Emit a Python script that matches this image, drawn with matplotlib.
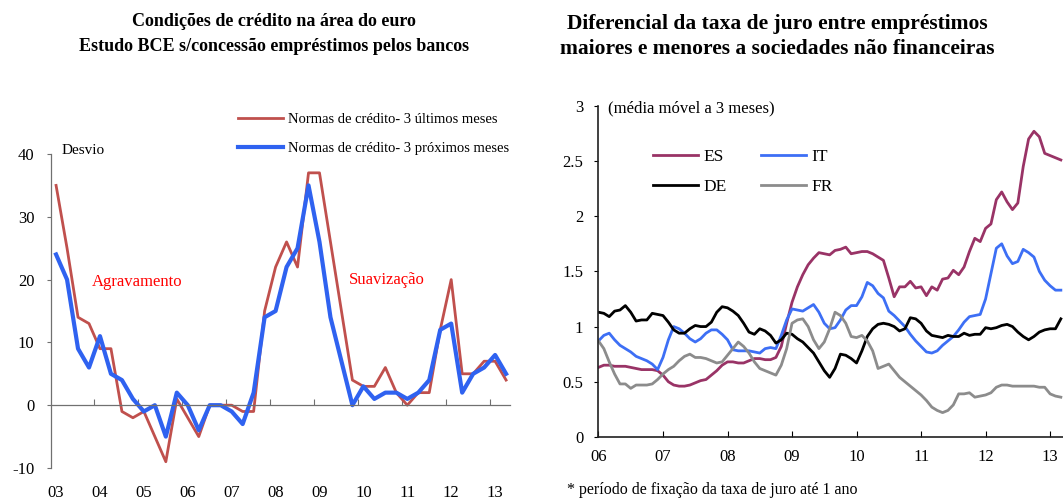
import pandas as pd
import matplotlib
matplotlib.use('Agg')
import matplotlib.pyplot as plt

plt.rcParams['font.family'] = ['Liberation Serif', 'DejaVu Serif']
plt.rcParams['axes.unicode_minus'] = False

# Grafico 1 - inquerito BCE, trimestral 2003T1-2013T2
trimestres = pd.period_range('2003Q1', '2013Q2', freq='Q')
normas_ultimos = [35, 25, 14, 13, 9, 9, -1, -2, -1, -5, -9, 1,
                  -2, -5, 0, 0, 0, -1, -1, 15, 22, 26, 22, 37,
                  37, 26, 15, 4, 3, 3, 6, 2, 0, 2, 2, 12,
                  20, 5, 5, 7, 7, 4]
normas_proximos = [24, 20, 9, 6, 11, 5, 4, 1, -1, 0, -5, 2,
                   0, -4, 0, 0, -1, -3, 2, 14, 15, 22, 25, 35,
                   26, 14, 7, 0, 3, 1, 2, 2, 1, 2, 4, 12,
                   13, 2, 5, 6, 8, 5]
anos_esq = list(range(2003, 2014))
rotulos_esq = ['03', '04', '05', '06', '07', '08', '09', '10', '11', '12', '13']
yticks_esq = [-10, 0, 10, 20, 30, 40]

# Grafico 2 - diferencial da taxa de juro, mensal (media movel 3 meses)
meses = pd.period_range('2006-01', '2013-03', freq='M')
es = [0.63, 0.65, 0.65, 0.64, 0.64, 0.64, 0.63, 0.62, 0.61, 0.61, 0.61, 0.60,
      0.56, 0.50, 0.47, 0.46, 0.46, 0.47, 0.49, 0.51, 0.52, 0.56, 0.60, 0.65,
      0.68, 0.68, 0.67, 0.67, 0.69, 0.71, 0.71, 0.70, 0.70, 0.72, 0.82, 1.03,
      1.22, 1.36, 1.47, 1.56, 1.62, 1.67, 1.66, 1.65, 1.69, 1.70, 1.72, 1.66,
      1.67, 1.68, 1.68, 1.66, 1.63, 1.60, 1.44, 1.27, 1.36, 1.36, 1.41, 1.35,
      1.36, 1.28, 1.36, 1.33, 1.43, 1.44, 1.51, 1.47, 1.54, 1.68, 1.80, 1.77,
      1.89, 1.93, 2.15, 2.22, 2.13, 2.06, 2.12, 2.45, 2.70, 2.77, 2.72, 2.57,
      2.55, 2.53, 2.51]
it = [0.87, 0.92, 0.94, 0.88, 0.83, 0.80, 0.77, 0.73, 0.71, 0.69, 0.66, 0.61,
      0.72, 0.88, 1.00, 0.98, 0.94, 0.89, 0.86, 0.89, 0.94, 0.97, 0.97, 0.93,
      0.88, 0.79, 0.78, 0.78, 0.78, 0.77, 0.76, 0.80, 0.81, 0.80, 0.92, 1.06,
      1.16, 1.15, 1.14, 1.17, 1.20, 1.13, 1.03, 0.98, 0.99, 1.06, 1.15, 1.19,
      1.19, 1.27, 1.40, 1.37, 1.30, 1.26, 1.14, 1.10, 1.05, 1.00, 0.93, 0.87,
      0.82, 0.77, 0.76, 0.78, 0.83, 0.87, 0.91, 0.97, 1.04, 1.09, 1.10, 1.11,
      1.25, 1.48, 1.71, 1.75, 1.64, 1.57, 1.59, 1.70, 1.67, 1.63, 1.50, 1.42,
      1.37, 1.33, 1.33]
de = [1.13, 1.12, 1.09, 1.14, 1.15, 1.19, 1.13, 1.05, 1.06, 1.06, 1.12, 1.11,
      1.10, 1.04, 0.97, 0.94, 0.94, 0.98, 1.01, 1.00, 1.00, 1.04, 1.13, 1.18,
      1.17, 1.14, 1.10, 1.03, 0.95, 0.93, 0.98, 0.96, 0.92, 0.85, 0.88, 0.94,
      0.93, 0.89, 0.86, 0.81, 0.76, 0.68, 0.60, 0.54, 0.62, 0.75, 0.74, 0.71,
      0.67, 0.78, 0.91, 0.98, 1.02, 1.03, 1.02, 1.00, 0.96, 0.98, 1.08, 1.07,
      1.03, 0.96, 0.92, 0.91, 0.90, 0.92, 0.91, 0.91, 0.94, 0.92, 0.93, 0.93,
      0.99, 0.98, 0.99, 1.01, 1.02, 1.00, 0.95, 0.91, 0.88, 0.91, 0.95, 0.97,
      0.98, 0.98, 1.07]
fr = [0.87, 0.80, 0.68, 0.57, 0.48, 0.48, 0.44, 0.47, 0.47, 0.47, 0.48, 0.52,
      0.57, 0.61, 0.64, 0.69, 0.73, 0.75, 0.72, 0.72, 0.71, 0.69, 0.67, 0.68,
      0.74, 0.80, 0.86, 0.82, 0.76, 0.68, 0.62, 0.60, 0.58, 0.56, 0.65, 0.80,
      1.03, 1.06, 1.07, 1.00, 0.88, 0.80, 0.86, 0.98, 1.13, 1.10, 1.03, 0.91,
      0.90, 0.92, 0.87, 0.78, 0.62, 0.64, 0.66, 0.60, 0.54, 0.50, 0.46, 0.42,
      0.38, 0.33, 0.27, 0.24, 0.22, 0.24, 0.29, 0.39, 0.39, 0.40, 0.36, 0.37,
      0.38, 0.40, 0.45, 0.47, 0.47, 0.46, 0.46, 0.46, 0.46, 0.46, 0.45, 0.45,
      0.39, 0.37, 0.36]
anos_dir = list(range(2006, 2014))
rotulos_dir = ['06', '07', '08', '09', '10', '11', '12', '13']
yticks_dir = [0, 0.5, 1, 1.5, 2, 2.5, 3]
ytick_rot_dir = ['0', '0.5', '1', '1.5', '2', '2.5', '3']

t_q = trimestres.year + (trimestres.quarter - 1) / 4
t_m = meses.year + (meses.month - 1) / 12

fig = plt.figure(figsize=(10.63, 5), dpi=100)

# ---- grafico da esquerda
ax1 = fig.add_axes([0.048, 0.064, 0.4318, 0.628])
ax1.plot(t_q, normas_ultimos, color='#C0504D', lw=2.0,
         label='Normas de crédito- 3 últimos meses')
ax1.plot(t_q, normas_proximos, color='#2F62F0', lw=3.0,
         label='Normas de crédito- 3 próximos meses')
ax1.set_xlim(2002.885, 2013.34)
ax1.set_ylim(-10, 40)
ax1.spines['top'].set_visible(False)
ax1.spines['right'].set_visible(False)
ax1.spines['bottom'].set_position(('data', 0))
for s in ['left', 'bottom']:
    ax1.spines[s].set_color('#707070')
    ax1.spines[s].set_linewidth(0.9)
ax1.set_xticks([a - 0.125 for a in anos_esq[1:]])
ax1.tick_params(axis='x', direction='in', length=4, labelbottom=False, color='#707070')
ax1.set_yticks(yticks_esq)
ax1.tick_params(axis='y', direction='out', length=3, pad=9, labelsize=12, color='#707070')

sec = ax1.secondary_xaxis('bottom')
sec.set_xticks(anos_esq, rotulos_esq)
sec.tick_params(length=0, pad=12, labelsize=12)
sec.spines['bottom'].set_visible(False)

ax1.text(2003.13, 40.6, 'Desvio', fontsize=11, va='center')
ax1.text(2003.81, 19.6, 'Agravamento', color='red', fontsize=12, va='center')
ax1.text(2009.66, 19.9, 'Suavização', color='red', fontsize=12, va='center')

ax1.legend(loc='upper left', bbox_to_anchor=(0.224, 0.774), bbox_transform=fig.transFigure,
           frameon=False, fontsize=10.5, handlelength=3.1, handletextpad=0.35,
           labelspacing=1.05, borderpad=0, borderaxespad=0)

# ---- grafico da direita
ax2 = fig.add_axes([0.563, 0.1262, 0.437, 0.662])
h_es, = ax2.plot(t_m, es, color='#993366', lw=2.0)
h_it, = ax2.plot(t_m, it, color='#3D6FF5', lw=2.0)
h_de, = ax2.plot(t_m, de, color='black', lw=2.0)
h_fr, = ax2.plot(t_m, fr, color='#8C8C8C', lw=2.0)
ax2.set_xlim(2006, 2013.2)
ax2.set_ylim(0, 3)
ax2.spines['top'].set_visible(False)
ax2.spines['right'].set_visible(False)
for s in ['left', 'bottom']:
    ax2.spines[s].set_color('#202020')
    ax2.spines[s].set_linewidth(1.2)
ax2.set_xticks(anos_dir, rotulos_dir)
ax2.tick_params(axis='x', direction='in', length=4, pad=9, labelsize=12)
ax2.set_yticks(yticks_dir, ytick_rot_dir)
ax2.tick_params(axis='y', direction='out', length=3, pad=8, labelsize=12)

ax2.legend([h_es, h_de, h_it, h_fr], ['ES', 'DE', 'IT', 'FR'], ncol=2,
           loc='upper left', bbox_to_anchor=(0.614, 0.702), bbox_transform=fig.transFigure,
           frameon=False, fontsize=12.5, handlelength=2.6, handletextpad=0.3,
           columnspacing=2.0, labelspacing=0.8, borderpad=0, borderaxespad=0)

fig.text(0.572, 0.784, '(média móvel a 3 meses)', fontsize=12, va='center')
fig.text(0.533, 0.02, '* período de fixação da taxa de juro até 1 ano', fontsize=11.5, va='center')

# titulos
fig.text(0.258, 0.974, 'Condições de crédito na área do euro\nEstudo BCE s/concessão empréstimos pelos bancos',
         ha='center', va='top', fontsize=13, fontweight='bold', linespacing=1.6)
fig.text(0.731, 0.972, 'Diferencial da taxa de juro entre empréstimos\nmaiores e menores a sociedades não financeiras',
         ha='center', va='top', fontsize=15.5, fontweight='bold', linespacing=1.3)

fig.savefig('out.png', dpi=100)
